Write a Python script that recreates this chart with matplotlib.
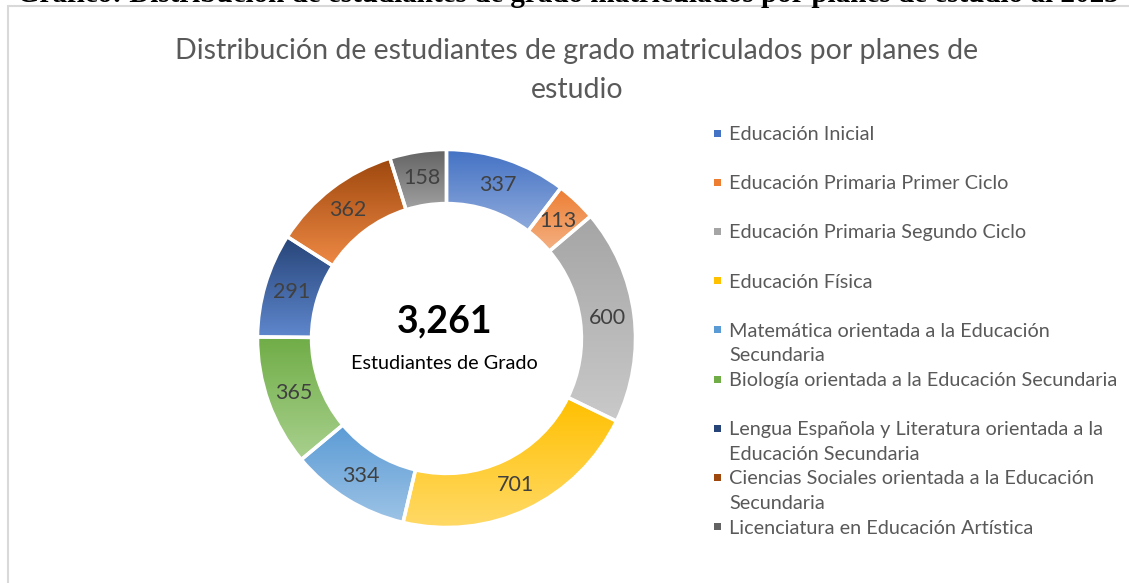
import matplotlib
matplotlib.use("Agg")
import matplotlib.pyplot as plt
import matplotlib.patches as mpatches
import numpy as np
import colorsys
from matplotlib.colors import to_rgb

# data
categories = [
    "Educación Inicial",
    "Educación Primaria Primer Ciclo",
    "Educación Primaria Segundo Ciclo",
    "Educación Física",
    "Matemática orientada a la Educación\nSecundaria",
    "Biología orientada a la Educación Secundaria",
    "Lengua Española y Literatura orientada a la\nEducación Secundaria",
    "Ciencias Sociales orientada a la Educación\nSecundaria",
    "Licenciatura en Educación Artística",
]
values = [337, 113, 600, 701, 334, 365, 291, 362, 158]
colors = ["#4472C4", "#ED7D31", "#A5A5A5", "#FFC000", "#5B9BD5",
          "#70AD47", "#264478", "#9E480E", "#636363"]

title_lines = ["Distribución de estudiantes de grado matriculados por planes de",
               "estudio"]
caption = "Gráfico: Distribución de estudiantes de grado matriculados por planes de estudio al 2023"
total = sum(values)

plt.rcParams['font.family'] = ['Lato', 'DejaVu Sans']

W, H = 1129, 583
fig = plt.figure(figsize=(W / 100, H / 100), dpi=100)

# chart frame
fig.patches.append(mpatches.Rectangle((8 / W, -0.1), 1.2, (H - 6.5) / H + 0.1,
                                      transform=fig.transFigure, fill=False,
                                      edgecolor="#D9D9D9", linewidth=1.5))

# caption of the page above the chart, mostly cut off
cap_font = dict(family="Liberation Serif", weight="bold", fontsize=21)
renderer = fig.canvas.get_renderer()
probe = fig.text(0, 0, "Gráfico: Distribución de estudiantes de ", **cap_font)
pre_w = probe.get_window_extent(renderer).width
probe.remove()
fig.text((510 - pre_w) / W, 1 - 1.5 / H, caption, va="baseline", ha="left",
         color="black", **cap_font)

cx, cy, R = 446.5, 338.5, 189
ax = fig.add_axes([(cx - R) / W, (H - cy - R) / H, 2 * R / W, 2 * R / H])

ring = 0.286
wedges, _ = ax.pie(values, startangle=90, counterclock=False, radius=1,
                   wedgeprops=dict(width=ring, edgecolor="white", linewidth=2.5))

def lighter(c, t):
    h, l, s = colorsys.rgb_to_hls(*to_rgb(c))
    return np.array(colorsys.hls_to_rgb(h, l + (1 - l) * t, s))

# vertical gradient per slice, dark on top, light at the bottom
for w, c in zip(wedges, colors):
    bb = w.get_path().get_extents()
    top = np.array(to_rgb(c))
    bot = lighter(c, 0.4)
    f = np.linspace(0, 1, 64)[:, None]
    grad = (top[None, :] * (1 - f) + bot[None, :] * f)[:, None, :]
    im = ax.imshow(grad, extent=[bb.x0, bb.x1, bb.y0, bb.y1], origin="upper",
                   aspect="auto", zorder=1, interpolation="bilinear")
    im.set_clip_path(w)
    w.set_facecolor("none")
    w.set_zorder(2)

# value labels in the middle of the ring
angle = 90.0
rl = 1 - ring / 2
for v in values:
    span = v / total * 360
    mid = np.deg2rad(angle - span / 2)
    ax.text(rl * np.cos(mid), rl * np.sin(mid), str(v), ha="center", va="center",
            fontsize=15.5, color="#404040", zorder=3)
    angle -= span

ax.text(-0.01, 0.09, f"{total:,}", ha="center", va="center", fontsize=27,
        weight="bold", color="black")
ax.text(-0.01, -0.13, "Estudiantes de Grado", ha="center", va="center",
        fontsize=14.3, color="black")
ax.set_xlim(-1, 1)
ax.set_ylim(-1, 1)
ax.set_aspect("equal")
ax.axis("off")

for k, line in enumerate(title_lines):
    fig.text(577 / W, 1 - (48 + 39 * k) / H, line, ha="center",
             va="center_baseline", fontsize=20.5, color="#595959")

# legend, one slot every 49 px
y0 = 133
for i, (lab, c) in enumerate(zip(categories, colors)):
    y = y0 + 49.2 * i
    fig.patches.append(mpatches.Rectangle((714 / W, 1 - (y + 3.5) / H), 7 / W, 7 / H,
                                          transform=fig.transFigure,
                                          facecolor=c, edgecolor="none"))
    for k, part in enumerate(lab.split("\n")):
        fig.text(729 / W, 1 - (y + 24.5 * k) / H, part, ha="left",
                 va="center_baseline", fontsize=14.3, color="#595959")

fig.savefig("out.png", dpi=100)
